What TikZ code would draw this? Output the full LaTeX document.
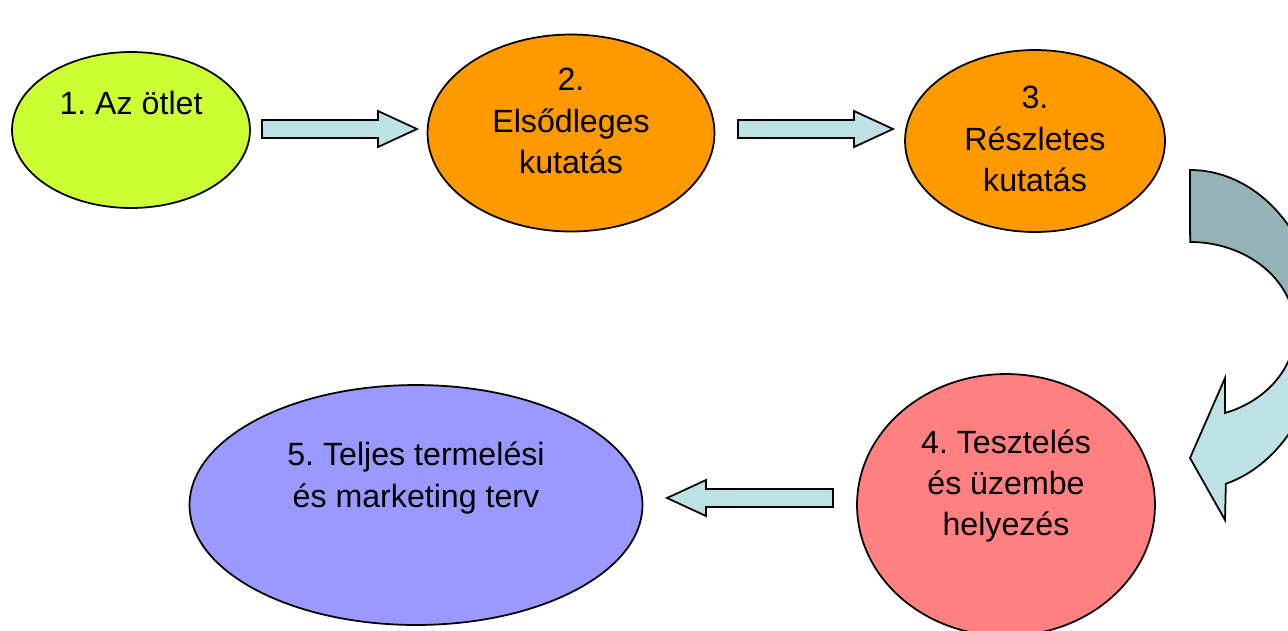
\documentclass[tikz,border=0pt]{standalone}
\usepackage{fontspec}
\setmainfont{Liberation Sans}
\frenchspacing
\usetikzlibrary{shapes.geometric, calc}
\definecolor{cidea}{HTML}{CCFF33}
\definecolor{corange}{HTML}{FF9900}
\definecolor{csalmon}{HTML}{FF8080}
\definecolor{cviolet}{HTML}{9999FF}
\definecolor{carrow}{HTML}{BDE1E5}
\definecolor{cslate}{HTML}{95B3B7}
\pgfdeclareverticalshading{turnshade}{100bp}{color(0bp)=(carrow); color(47bp)=(carrow); color(53bp)=(cslate); color(100bp)=(cslate)}
\tikzset{
  every picture/.style={line width=1pt},
  stage/.style={ellipse, draw=black, fill=#1, inner sep=0pt},
  stagetext/.style={font=\fontsize{18.3}{23.6}\selectfont, align=center, inner sep=0pt},
  blockarrow/.style={draw=black, fill=carrow, line join=miter, to path={
    ($(\tikztotarget)!0.78cm!(\tikztostart)$) coordinate (hb)
    ($(\tikztostart)!0.18cm!90:(\tikztotarget)$)
    -- ($(hb)!0.18cm!90:(\tikztotarget)$)
    -- ($(hb)!0.36cm!90:(\tikztotarget)$)
    -- (\tikztotarget)
    -- ($(hb)!0.36cm!-90:(\tikztotarget)$)
    -- ($(hb)!0.18cm!-90:(\tikztotarget)$)
    -- ($(\tikztostart)!0.18cm!-90:(\tikztotarget)$)
    -- cycle}},
}

\begin{document}
\begin{tikzpicture}[x=0.02cm, y=-0.02cm]
  \useasboundingbox (0,0) rectangle (1288,630);
  \clip (0,0) rectangle (1288,630);
  % stages
  \node[stage=cidea,   minimum width=4.76cm, minimum height=3.12cm] (idea) at (131,130) {};
  \node[stage=corange, minimum width=5.74cm, minimum height=3.94cm] (prim) at (571,133) {};
  \node[stage=corange, minimum width=5.20cm, minimum height=3.64cm] (detail) at (1035,141) {};
  \node[stage=csalmon, minimum width=5.96cm, minimum height=5.24cm] (test) at (1006,505) {};
  \node[stage=cviolet, minimum width=9.06cm, minimum height=4.80cm] (plan) at (416,505) {};
  \node[stagetext] (idea text) at ($(idea)+(0,-27)$) {1. Az ötlet};
  \node[stagetext] (prim text) at ($(prim)+(0,-12)$) {2.\\Elsődleges\\kutatás};
  \node[stagetext] (detail text) at ($(detail)+(0,-2)$) {3.\\Részletes\\kutatás};
  \node[stagetext] (test text) at ($(test)+(0,-19)$) {4. Tesztelés\\és üzembe\\helyezés};
  \node[stagetext] (plan text) at ($(plan)+(0,-27)$) {5. Teljes termelési\\és marketing terv};
  % block arrows
  \coordinate (a1s) at (262,129);
  \coordinate (a1e) at (417,129);
  \coordinate (a2s) at (738,129);
  \coordinate (a2e) at (893,129);
  \coordinate (a3s) at (833,498);
  \coordinate (a3e) at (667,498);
  \draw[blockarrow] (a1s) to (a1e);
  \draw[blockarrow] (a2s) to (a2e);
  \draw[blockarrow] (a3s) to (a3e);
  % curved arrow on the right
  \path[draw=black, shading=turnshade, line join=miter]
    (1190,170) arc[start angle=-90, end angle=74, x radius=130, y radius=160]
    -- (1225,520) -- (1190,458) -- (1225,378) -- (1225,413)
    arc[start angle=70.6, end angle=-90, x radius=105, y radius=88] -- cycle;
\end{tikzpicture}
\end{document}
